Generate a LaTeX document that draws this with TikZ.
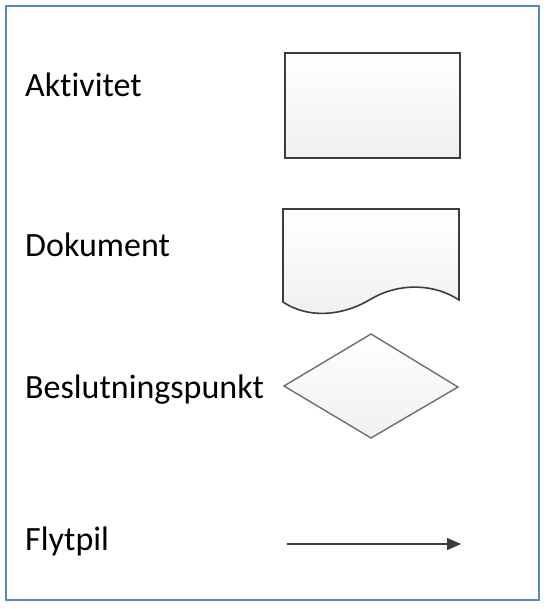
\documentclass[tikz,border=0pt]{standalone}
\usepackage{fontspec}
\setmainfont[Ligatures=NoCommon]{Carlito}
\usetikzlibrary{arrows.meta}
\definecolor{rammeblaa}{HTML}{5B87C0}
\definecolor{strek}{HTML}{3C3C3C}
\definecolor{lysstrek}{HTML}{6E6E6E}
\tikzset{
  tekst/.style={anchor=base west, inner sep=0pt, font=\fontsize{34}{40}\selectfont},
  symbol/.style={line width=1.8pt, draw=strek, top color=white, bottom color=black!6},
  pil/.style={line width=1.3pt, draw=strek, -{Stealth[length=14pt,width=12pt,inset=0pt]}}
}

\begin{document}
\begin{tikzpicture}[x=1pt, y=-1pt]
		%%%%% START %%%%%
		\useasboundingbox (0, 0) rectangle (547, 609);
		
		\draw[line width=2pt, color=rammeblaa] (6, 6) rectangle (539, 600);
		
		\node[tekst] (aktivitet) at (25, 97) {Aktivitet};
		\node[tekst] (dokument) at (25, 256) {Dokument};
		\node[tekst] (beslutning) at (25, 398) {Beslutningspunkt};
		\node[tekst] (flytpil) at (25, 550) {Flytpil};
		
		\draw[symbol, line width=2pt] (285, 53) rectangle (460, 158);
		
		\draw[symbol, line width=1.6pt] (283, 209) -- (459, 209) -- (459, 300)
			.. controls (435, 284) and (400, 282) .. (371, 299)
			.. controls (345, 315) and (310, 320) .. (283, 302) -- cycle;
		
		\draw[symbol, line width=1.4pt, draw=lysstrek] (371, 334) -- (458, 387) -- (371, 438) -- (284, 386) -- cycle;
		
		\coordinate (pilstart) at (287, 544);
		\coordinate (pilslutt) at (461, 544);
		\draw[pil] (pilstart) -- (pilslutt);
		
		%%%%% END %%%%%
	\end{tikzpicture}
\end{document}
